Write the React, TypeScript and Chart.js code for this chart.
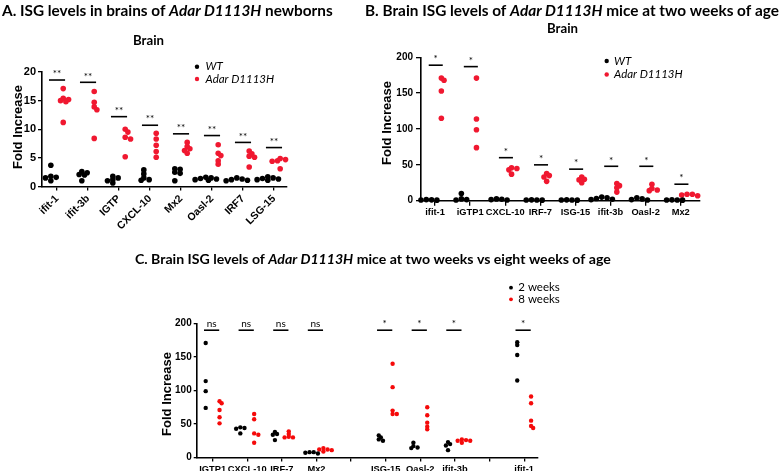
import React, { useEffect, useRef } from 'react';
import { Chart, registerables } from 'chart.js';
Chart.register(...registerables);

// ---------- Panel A data ----------
const categoriesA = ['ifit-1', 'ifit-3b', 'IGTP', 'CXCL-10', 'Mx2', 'Oasl-2', 'IRF7', 'LSG-15'];
const wtA = [
  [3.7, 1.8, 1.6, 1.5, 1.0],
  [2.6, 2.4, 2.1, 2.0, 1.0],
  [1.8, 1.5, 1.2, 1.0, 0.6],
  [2.9, 2.2, 1.5, 1.2, 1.1],
  [3.1, 3.0, 2.5, 2.3, 1.0],
  [1.6, 1.5, 1.4, 1.3, 1.2, 1.1],
  [1.5, 1.3, 1.2, 1.1, 1.0],
  [1.7, 1.5, 1.4, 1.3, 1.2, 1.1],
];
const mutA = [
  [17.1, 15.4, 15.2, 15.0, 14.8, 11.2],
  [16.6, 14.7, 13.9, 13.4, 8.4],
  [10.0, 9.5, 8.6, 8.3, 5.2],
  [9.3, 8.3, 7.2, 6.1, 5.1],
  [7.7, 7.0, 6.6, 6.3, 5.8],
  [7.3, 5.8, 5.4, 4.5, 3.9],
  [6.2, 5.7, 5.3, 5.1, 3.4],
  [4.9, 4.7, 4.5, 4.4, 3.1],
];
const sigLevelA = [18.6, 18.2, 12.2, 10.7, 9.2, 8.9, 7.7, 6.8];
const sigTextA = ['**', '**', '**', '**', '**', '**', '**', '**'];
const yTicksA = [0, 5, 10, 15, 20];

// ---------- Panel B data ----------
const categoriesB = ['ifit-1', 'iGTP1', 'CXCL-10', 'IRF-7', 'ISG-15', 'ifit-3b', 'Oasl-2', 'Mx2'];
const wtB = [
  [1.5, 1.2, 1.0, 0.8],
  [10, 2.5, 1.5, 1],
  [2.5, 2, 1.5, 1],
  [1.2, 1, 1, 0.8],
  [1.2, 1, 1, 0.8],
  [5, 4, 3, 2, 1.5],
  [4, 2.5, 1.5, 1],
  [1.2, 1, 1, 0.8],
];
const mutB = [
  [171, 168, 153, 115],
  [171, 114, 99, 74],
  [46, 45, 43, 37],
  [38, 35, 33, 27],
  [33, 30, 29, 25],
  [24, 21, 18, 12],
  [23, 17, 15, 14],
  [9, 9, 8, 7],
];
const sigLevelB = [189, 187, 60, 50, 44, 48, 48, 23];
const sigTextB = ['*', '*', '*', '*', '*', '*', '*', '*'];
const yTicksB = [0, 50, 100, 150, 200];

// ---------- Panel C data ----------
const categoriesC = ['IGTP1', 'CXCL-10', 'IRF-7', 'Mx2', '', 'ISG-15', 'Oasl-2', 'ifit-3b', '', 'ifit-1'];
const twoWeeksC = [
  [171, 114, 99, 74],
  [45, 44, 43, 36],
  [38, 35, 34, 26],
  [8, 8, 7, 6],
  [],
  [33, 30, 27, 25],
  [22, 17, 15, 14],
  [23, 20, 18, 11],
  [],
  [172, 168, 153, 115],
];
const eightWeeksC = [
  [84, 81, 71, 60, 51],
  [65, 57, 36, 34, 22],
  [39, 35, 31, 30, 30],
  [14, 12, 12, 11, 9],
  [],
  [140, 105, 70, 65, 65],
  [75, 63, 52, 46, 42],
  [27, 26, 25, 25, 22],
  [],
  [91, 81, 55, 47, 44],
];
const sigLevelC = [190, 190, 190, 190, null, 190, 190, 190, null, 190];
const sigTextC = ['ns', 'ns', 'ns', 'ns', '', '*', '*', '*', '', '*'];
const yTicksC = [0, 50, 100, 150, 200];

// ---------- styling ----------
const AXIS_FONT = '"Liberation Sans", Arial, sans-serif';
const TEXT_FONT = 'Lato, "Open Sans", sans-serif';
const RED_AB = '#f01830';
const RED_C = '#f50a0a';
const W = 784;
const H = 471;

type Run = [string, boolean];

function swarm(values: number[], pxX: number, pxY: number, r: number): number[] {
  const order = values.map((_, i) => i).sort((a, b) => values[b] - values[a]);
  const placed: { x: number; y: number }[] = [];
  const res = new Array(values.length).fill(0);
  const step = r * 0.95;
  const minD = r * 1.15;
  for (const i of order) {
    const y = values[i] * pxY;
    for (let k = 0; k < 30; k++) {
      const m = k === 0 ? 0 : k % 2 === 1 ? Math.ceil(k / 2) : -Math.ceil(k / 2);
      const x = m * step;
      if (placed.every((p) => Math.hypot(p.x - x, p.y - y) >= minD)) {
        placed.push({ x, y });
        res[i] = x / pxX;
        break;
      }
    }
  }
  return res;
}

function runsWidth(ctx: CanvasRenderingContext2D, runs: Run[], size: number, weight: string) {
  let w = 0;
  for (const [t, it] of runs) {
    ctx.font = `${it ? 'italic ' : ''}${weight} ${size}px ${TEXT_FONT}`;
    w += ctx.measureText(t).width;
  }
  return w;
}

function drawRunsFit(ctx: CanvasRenderingContext2D, runs: Run[], x: number, y: number, width: number, weight: string) {
  const base = 15;
  const size = (base * width) / runsWidth(ctx, runs, base, weight);
  ctx.save();
  ctx.fillStyle = '#000';
  ctx.textAlign = 'left';
  ctx.textBaseline = 'alphabetic';
  let cx = x;
  for (const [t, it] of runs) {
    ctx.font = `${it ? 'italic ' : ''}${weight} ${size}px ${TEXT_FONT}`;
    ctx.fillText(t, cx, y);
    cx += ctx.measureText(t).width;
  }
  ctx.restore();
}

function drawText(ctx: CanvasRenderingContext2D, t: string, x: number, y: number, font: string, align: CanvasTextAlign = 'left', color = '#000') {
  ctx.save();
  ctx.font = font;
  ctx.fillStyle = color;
  ctx.textAlign = align;
  ctx.textBaseline = 'middle';
  ctx.fillText(t, x, y);
  ctx.restore();
}

function drawVertical(ctx: CanvasRenderingContext2D, t: string, cx: number, cy: number, size: number) {
  ctx.save();
  ctx.translate(cx, cy);
  ctx.rotate(-Math.PI / 2);
  ctx.font = `bold ${size}px ${AXIS_FONT}`;
  ctx.fillStyle = '#000';
  ctx.textAlign = 'center';
  ctx.textBaseline = 'middle';
  ctx.fillText(t, 0, 0);
  ctx.restore();
}

function dot(ctx: CanvasRenderingContext2D, x: number, y: number, r: number, color: string) {
  ctx.save();
  ctx.fillStyle = color;
  ctx.beginPath();
  ctx.arc(x, y, r, 0, Math.PI * 2);
  ctx.fill();
  ctx.restore();
}

interface PanelCfg {
  key: string;
  cats: string[];
  series: { values: number[][]; color: string; offset: number }[];
  area: { left: number; top: number; right: number; bottom: number };
  xAxisH: number;
  xMin: number;
  xMax: number;
  yMax: number;
  yTicks: number[];
  pxX: number;
  pxY: number;
  r: number;
  rotation: number;
  xFont: number;
  yFont: number;
  yTickLen: number;
  yPad: number;
  xTickLen: number;
  xPad: number;
  sigLevels: (number | null)[];
  sigText: string[];
  sigShift: number;
  sigHalf: number;
  sigGap: number;
  sigFont: string;
  decorate: (ctx: CanvasRenderingContext2D) => void;
}

function buildChart(canvas: HTMLCanvasElement, cfg: PanelCfg) {
  const yAxisW = 40;
  const xAxisH = cfg.xAxisH;
  const datasets = cfg.series.map((s, si) => {
    const data: { x: number; y: number }[] = [];
    s.values.forEach((vals, ci) => {
      const offs = swarm(vals, cfg.pxX, cfg.pxY, cfg.r);
      vals.forEach((v, j) => data.push({ x: ci + s.offset + offs[j], y: v }));
    });
    return {
      label: 's' + si,
      data,
      backgroundColor: s.color,
      borderColor: s.color,
      borderWidth: 0,
      pointRadius: cfg.r,
      pointHoverRadius: cfg.r,
      clip: false as any,
    };
  });

  const annot = {
    id: 'annot' + cfg.key,
    afterDraw(chart: any) {
      const ctx: CanvasRenderingContext2D = chart.ctx;
      const xs = chart.scales.x;
      const ys = chart.scales.y;
      ctx.save();
      cfg.sigLevels.forEach((lv, i) => {
        if (lv == null) return;
        const x0 = xs.getPixelForValue(i + cfg.sigShift - cfg.sigHalf);
        const x1 = xs.getPixelForValue(i + cfg.sigShift + cfg.sigHalf);
        const y = ys.getPixelForValue(lv);
        ctx.strokeStyle = '#000';
        ctx.lineWidth = 1.6;
        ctx.beginPath();
        ctx.moveTo(x0, y);
        ctx.lineTo(x1, y);
        ctx.stroke();
        drawText(ctx, cfg.sigText[i], (x0 + x1) / 2, y - cfg.sigGap, cfg.sigFont, 'center');
      });
      ctx.restore();
      cfg.decorate(ctx);
    },
  };

  const gridOpts = (len: number) => ({
    drawOnChartArea: false,
    drawTicks: true,
    tickLength: len,
    color: '#000',
    lineWidth: 1.3,
  });

  return new Chart(canvas, {
    type: 'scatter',
    data: { datasets } as any,
    options: {
      responsive: false,
      animation: false,
      devicePixelRatio: 1,
      layout: {
        padding: {
          left: cfg.area.left - yAxisW,
          top: cfg.area.top,
          right: W - cfg.area.right,
          bottom: H - cfg.area.bottom - xAxisH,
        },
      },
      plugins: { legend: { display: false }, tooltip: { enabled: false }, title: { display: false } },
      scales: {
        x: {
          type: 'linear',
          min: cfg.xMin,
          max: cfg.xMax,
          afterFit: (s: any) => {
            s.height = xAxisH;
            s.paddingLeft = 0;
            s.paddingRight = 0;
          },
          afterBuildTicks: (s: any) => {
            s.ticks = cfg.cats.map((_, i) => ({ value: i }));
          },
          ticks: {
            autoSkip: false,
            minRotation: cfg.rotation,
            maxRotation: cfg.rotation,
            padding: cfg.xPad,
            color: '#000',
            font: { family: AXIS_FONT, size: cfg.xFont, weight: 'bold' },
            callback: (v: any) => cfg.cats[Math.round(Number(v))] ?? '',
          },
          grid: gridOpts(cfg.xTickLen),
          border: { color: '#000', width: 1.6 },
        },
        y: {
          type: 'linear',
          min: 0,
          max: cfg.yMax,
          afterFit: (s: any) => {
            s.width = yAxisW;
          },
          afterBuildTicks: (s: any) => {
            s.ticks = cfg.yTicks.map((v) => ({ value: v }));
          },
          ticks: {
            padding: cfg.yPad,
            color: '#000',
            font: { family: AXIS_FONT, size: cfg.yFont, weight: 'bold' },
            callback: (v: any) => String(v),
          },
          grid: gridOpts(cfg.yTickLen),
          border: { color: '#000', width: 1.6 },
        },
      },
    } as any,
    plugins: [annot],
  });
}

const panelA: PanelCfg = {
  key: 'A',
  cats: categoriesA,
  series: [
    { values: wtA, color: '#000', offset: -0.2 },
    { values: mutA, color: RED_AB, offset: 0.2 },
  ],
  area: { left: 42, top: 72, right: 287, bottom: 186.5 },
  xAxisH: 50,
  xMin: -0.485,
  xMax: 7.42,
  yMax: 20,
  yTicks: yTicksA,
  pxX: 30.9,
  pxY: 5.73,
  r: 2.8,
  rotation: 45,
  xFont: 10.5,
  yFont: 11,
  yTickLen: 4,
  yPad: 2,
  xTickLen: 4,
  xPad: 2,
  sigLevels: sigLevelA,
  sigText: sigTextA,
  sigShift: 0,
  sigHalf: 0.26,
  sigGap: 6,
  sigFont: `10px ${TEXT_FONT}`,
  decorate: (ctx) => {
    drawRunsFit(ctx, [['A. ISG levels in brains of ', false], ['Adar D1113H', true], [' newborns', false]], 2, 16, 331, 'bold');
    drawRunsFit(ctx, [['Brain', false]], 133, 45, 31, 'bold');
    drawVertical(ctx, 'Fold Increase', 18, 127, 13);
    dot(ctx, 197, 66.7, 2.2, '#000');
    dot(ctx, 197, 79, 2.2, RED_AB);
    drawText(ctx, 'WT', 205.5, 66.7, `italic 11.5px ${TEXT_FONT}`);
    drawText(ctx, 'Adar D1113H', 205.5, 79, `italic 11.5px ${TEXT_FONT}`);
  },
};

const panelB: PanelCfg = {
  key: 'B',
  cats: categoriesB,
  series: [
    { values: wtB, color: '#000', offset: -0.25 },
    { values: mutB, color: RED_AB, offset: 0.18 },
  ],
  area: { left: 421, top: 57.3, right: 700, bottom: 200.7 },
  xAxisH: 25,
  xMin: -0.4,
  xMax: 7.55,
  yMax: 200,
  yTicks: yTicksB,
  pxX: 35.1,
  pxY: 0.717,
  r: 2.8,
  rotation: 0,
  xFont: 9.3,
  yFont: 10,
  yTickLen: 5,
  yPad: 3,
  xTickLen: 5,
  xPad: 1,
  sigLevels: sigLevelB,
  sigText: sigTextB,
  sigShift: 0.02,
  sigHalf: 0.2,
  sigGap: 6,
  sigFont: `10px ${TEXT_FONT}`,
  decorate: (ctx) => {
    drawRunsFit(ctx, [['B. Brain ISG levels of ', false], ['Adar D1113H', true], [' mice at two weeks of age', false]], 365, 16, 414, 'bold');
    drawRunsFit(ctx, [['Brain', false]], 547, 33, 31, 'bold');
    drawVertical(ctx, 'Fold Increase', 387, 123, 13);
    dot(ctx, 606.7, 61, 2.2, '#000');
    dot(ctx, 606.7, 74.5, 2.2, RED_AB);
    drawText(ctx, 'WT', 614, 61, `italic 11.5px ${TEXT_FONT}`);
    drawText(ctx, 'Adar D1113H', 614, 74.5, `italic 11.5px ${TEXT_FONT}`);
  },
};

const panelC: PanelCfg = {
  key: 'C',
  cats: categoriesC,
  series: [
    { values: twoWeeksC, color: '#000', offset: -0.2 },
    { values: eightWeeksC, color: RED_C, offset: 0.2 },
  ],
  area: { left: 196.7, top: 323.5, right: 538, bottom: 457.5 },
  xAxisH: 13.5,
  xMin: -0.46,
  xMax: 9.4,
  yMax: 200,
  yTicks: yTicksC,
  pxX: 34.6,
  pxY: 0.67,
  r: 2.2,
  rotation: 0,
  xFont: 9.3,
  yFont: 10,
  yTickLen: 3,
  yPad: 2,
  xTickLen: 4,
  xPad: 2,
  sigLevels: sigLevelC,
  sigText: sigTextC,
  sigShift: -0.03,
  sigHalf: 0.22,
  sigGap: 6,
  sigFont: `10px ${TEXT_FONT}`,
  decorate: (ctx) => {
    drawRunsFit(
      ctx,
      [['C. Brain ISG levels of ', false], ['Adar D1113H', true], [' mice at two weeks vs eight weeks of age', false]],
      135,
      264,
      476,
      'bold'
    );
    drawVertical(ctx, 'Fold Increase', 167, 394, 13);
    dot(ctx, 511, 287.7, 1.9, '#000');
    dot(ctx, 511, 299.3, 1.9, RED_C);
    drawText(ctx, '2 weeks', 518.3, 287.7, `11.5px ${TEXT_FONT}`);
    drawText(ctx, '8 weeks', 518.3, 299.3, `11.5px ${TEXT_FONT}`);
  },
};

function Panel({ cfg }: { cfg: PanelCfg }) {
  const ref = useRef<HTMLCanvasElement>(null);
  useEffect(() => {
    if (!ref.current) return;
    const chart = buildChart(ref.current, cfg);
    return () => chart.destroy();
  }, [cfg]);
  return <canvas ref={ref} width={W} height={H} style={{ position: 'absolute', left: 0, top: 0, width: W, height: H }} />;
}

export default function App() {
  useEffect(() => {
    document.body.style.margin = '0';
  }, []);
  return (
    <div style={{ position: 'relative', width: W, height: H, background: '#fff', overflow: 'hidden' }}>
      <Panel cfg={panelA} />
      <Panel cfg={panelB} />
      <Panel cfg={panelC} />
    </div>
  );
}
